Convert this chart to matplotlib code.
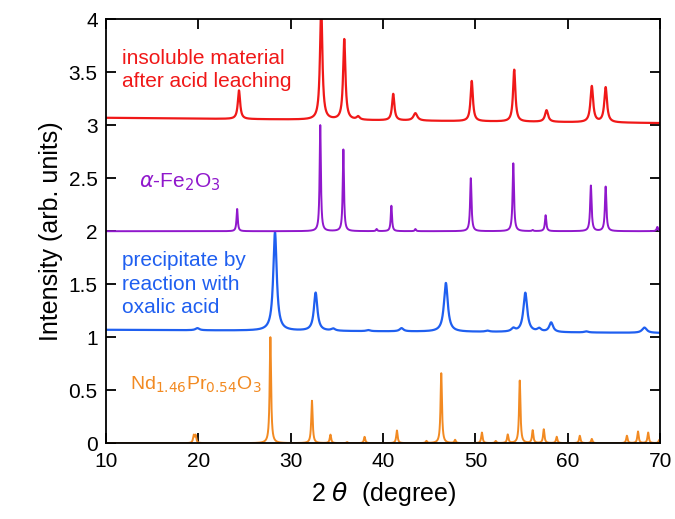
import numpy as np
import matplotlib.pyplot as plt

plt.rcParams['font.family'] = ['Liberation Sans', 'DejaVu Sans']
plt.rcParams['mathtext.fontset'] = 'dejavusans'

# peak lists: 2theta position, height above baseline, FWHM
red_pos = [24.4, 33.3, 35.8, 37.3, 41.1, 43.5, 49.6, 54.2, 57.7, 62.6, 64.1]
red_h = [0.27, 1.10, 0.76, 0.03, 0.25, 0.07, 0.38, 0.49, 0.11, 0.34, 0.33]
red_w = [0.30, 0.30, 0.30, 0.40, 0.30, 0.50, 0.30, 0.30, 0.40, 0.35, 0.35]
red_base = [3.07, 3.02]

fe_pos = [24.2, 33.2, 35.7, 39.3, 40.9, 43.5, 49.5, 54.1, 56.2, 57.6, 62.5, 64.1, 69.7]
fe_h = [0.21, 1.00, 0.77, 0.02, 0.24, 0.02, 0.50, 0.64, 0.01, 0.15, 0.43, 0.42, 0.04]
fe_w = [0.16, 0.16, 0.16, 0.16, 0.16, 0.16, 0.18, 0.18, 0.16, 0.18, 0.19, 0.19, 0.19]
fe_base = [2.0, 2.0]

blue_pos = [19.9, 28.3, 32.7, 34.6, 38.4, 42.0, 46.8, 51.3, 54.1, 55.4, 56.9, 58.2, 62.0, 68.3]
blue_h = [0.02, 0.93, 0.36, 0.02, 0.01, 0.03, 0.46, 0.01, 0.03, 0.37, 0.03, 0.09, 0.01, 0.05]
blue_w = [0.50, 0.45, 0.45, 0.50, 0.50, 0.50, 0.50, 0.50, 0.50, 0.50, 0.50, 0.50, 0.50, 0.60]
blue_base = [1.07, 1.04]

nd_pos = [19.5, 19.7, 27.8, 32.3, 34.3, 36.1, 38.0, 41.5, 44.7, 46.3, 47.8, 50.7,
          52.2, 53.5, 54.8, 56.2, 57.4, 58.8, 61.3, 62.6, 66.4, 67.6, 68.7, 69.9]
nd_h = [0.07, 0.07, 1.00, 0.40, 0.08, 0.01, 0.06, 0.12, 0.02, 0.66, 0.03, 0.10,
        0.02, 0.08, 0.59, 0.12, 0.13, 0.06, 0.07, 0.04, 0.07, 0.11, 0.10, 0.03]
nd_w = 0.18
nd_base = [0.0, 0.0]

tt = np.linspace(10, 70, 6001)


def pattern(pos, h, w, base):
    w = np.broadcast_to(w, np.shape(pos))
    y = np.interp(tt, [10, 70], base)
    for p, a, fw in zip(pos, h, w):
        y = y + a / (1 + ((tt - p) / (fw / 2)) ** 2)
    return y


fig = plt.figure(figsize=(6.75, 5.19), dpi=100)
ax = fig.add_axes([0.157, 0.146, 0.821, 0.817])

ax.plot(tt, pattern(nd_pos, nd_h, nd_w, nd_base), color='#f28a22', lw=1.4)
ax.plot(tt, pattern(blue_pos, blue_h, blue_w, blue_base), color='#1f5ff0', lw=1.6)
ax.plot(tt, pattern(fe_pos, fe_h, fe_w, fe_base), color='#9018cc', lw=1.4)
ax.plot(tt, pattern(red_pos, red_h, red_w, red_base), color='#f01818', lw=1.6)

ax.set_xlim(10, 70)
ax.set_ylim(0, 4)
ax.set_xticks([10, 20, 30, 40, 50, 60, 70])
ax.set_yticks([0, 0.5, 1, 1.5, 2, 2.5, 3, 3.5, 4])
ax.set_yticklabels(['0', '0.5', '1', '1.5', '2', '2.5', '3', '3.5', '4'])
ax.tick_params(direction='in', length=7, width=1.3, top=True, right=True,
               labelsize=15, pad=6)
for s in ax.spines.values():
    s.set_linewidth(1.3)

ax.set_xlabel(r'2 $\theta$  (degree)', fontsize=18, labelpad=7)
ax.set_ylabel('Intensity (arb. units)', fontsize=18, labelpad=4)

ax.text(11.7, 3.52, 'insoluble material\nafter acid leaching', color='#f01818',
        fontsize=15, va='center', linespacing=1.3)
ax.text(13.6, 2.46, r'$\alpha$-Fe$_2$O$_3$', color='#9018cc', fontsize=15,
        va='center')
ax.text(11.7, 1.50, 'precipitate by\nreaction with\noxalic acid', color='#1f5ff0',
        fontsize=15, va='center', linespacing=1.3)
ax.text(12.6, 0.55, r'Nd$_{1.46}$Pr$_{0.54}$O$_3$', color='#f28a22', fontsize=14,
        va='center')

fig.savefig('out.png', dpi=100)
